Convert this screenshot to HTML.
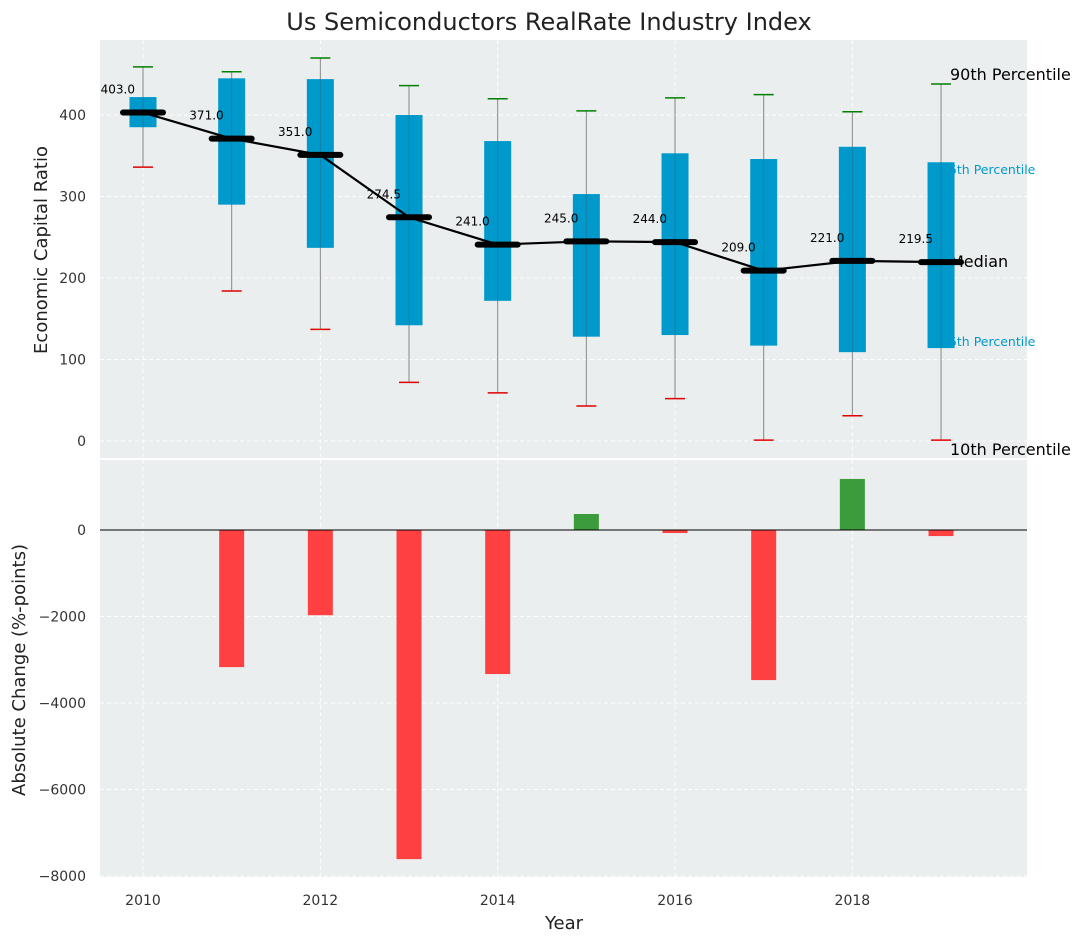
<!DOCTYPE html>
<html><head><meta charset="utf-8"><style>
body{margin:0;background:#fff;}
svg{display:block;font-family:"DejaVu Sans","Liberation Sans",sans-serif;}
</style></head><body>
<svg id="c" width="1085" height="942" viewBox="0 0 1085 942"></svg>
<script>
const years=[2010,2011,2012,2013,2014,2015,2016,2017,2018,2019];
const medians=[403,371,351,274.5,241,245,244,209,221,219.5];
const q1=[385,290,237,142,172,128,130,117,109,114];
const q3=[422,445,444,400,368,303,353,346,361,342];
const p10=[336,184,137,72,59,43,52,1,31,1];
const p90=[459,453,470,436,420,405,421,425,404,438];
const changes=[null,-3170,-1970,-7610,-3330,370,-70,-3470,1180,-140];
const topTicks=[0,100,200,300,400];
const botTicks=[0,-2000,-4000,-6000,-8000];
const xTicks=[2010,2012,2014,2016,2018];

const NS="http://www.w3.org/2000/svg";
const svg=document.getElementById('c');
function el(t,a,p){const e=document.createElementNS(NS,t);for(const k in a)e.setAttribute(k,a[k]);(p||svg).appendChild(e);return e;}
const X=v=>143+(v-2010)*88.67;
const YT=v=>441-v*0.815;
const YB=v=>530-v*0.04325;
const L=100,R=1027;
let e;
e=el('rect',{x:L,y:40,width:R-L,height:418,fill:'#eaeeee'});

e=el('rect',{x:L,y:460,width:R-L,height:417,fill:'#eaeeee'});

topTicks.forEach(t=>{el('line',{x1:L,x2:R,y1:YT(t),y2:YT(t),stroke:'#fff','stroke-dasharray':'4 3','stroke-width':1});
 e=el('text',{x:L-14,y:YT(t)+5,'text-anchor':'end','font-size':14,fill:'#333'});e.textContent=t;
 });
botTicks.forEach(t=>{el('line',{x1:L,x2:R,y1:YB(t),y2:YB(t),stroke:'#fff','stroke-dasharray':'4 3','stroke-width':1});
 e=el('text',{x:L-14,y:YB(t)+5,'text-anchor':'end','font-size':14,fill:'#333'});e.textContent=String(t).replace('-','\u2212');
 });
xTicks.forEach(t=>{el('line',{x1:X(t),x2:X(t),y1:40,y2:458,stroke:'#fff','stroke-dasharray':'4 3'});
 el('line',{x1:X(t),x2:X(t),y1:460,y2:877,stroke:'#fff','stroke-dasharray':'4 3'});
 e=el('text',{x:X(t),y:905,'text-anchor':'middle','font-size':14,fill:'#333'});e.textContent=t;
 });
const rl=[['90th Percentile',80,'#000',16,950],['75th Percentile',174,'#0099cc',12.5,941],['Median',267,'#000',16,950],['25th Percentile',346,'#0099cc',12.5,941],['10th Percentile',455,'#000',16,950]];
rl.forEach(r=>{e=el('text',{x:r[4],y:r[1],'font-size':r[3],fill:r[2]});e.textContent=r[0];
 });
years.forEach((y,i)=>{const x=X(y);
 e=el('line',{x1:x,x2:x,y1:YT(p10[i]),y2:YT(p90[i]),stroke:'#888','stroke-width':1});
 
 e=el('rect',{x:x-13.5,y:YT(q3[i]),width:27,height:YT(q1[i])-YT(q3[i]),fill:'#0099cc'});
 
 el('line',{x1:x,x2:x,y1:YT(q1[i]),y2:YT(q3[i]),stroke:'#2a6f88','stroke-width':1,opacity:0.6});
 e=el('line',{x1:x-10,x2:x+10,y1:YT(p90[i]),y2:YT(p90[i]),stroke:'#008000','stroke-width':1.5});
 
 e=el('line',{x1:x-10,x2:x+10,y1:YT(p10[i]),y2:YT(p10[i]),stroke:'#e00000','stroke-width':1.5});
 
});
e=el('polyline',{points:years.map((y,i)=>X(y)+','+YT(medians[i])).join(' '),fill:'none',stroke:'#000','stroke-width':2.2});

years.forEach((y,i)=>{const x=X(y);
 e=el('line',{x1:x-20,x2:x+20,y1:YT(medians[i]),y2:YT(medians[i]),stroke:'#000','stroke-width':6,'stroke-linecap':'round'});
 
 e=el('text',{x:x-8,y:YT(medians[i])-19,'text-anchor':'end','font-size':12,fill:'#000'});e.textContent=medians[i].toFixed(1);
 
});
years.forEach((y,i)=>{if(changes[i]==null)return;const v=changes[i];
 e=el('rect',{x:X(y)-12.5,y:Math.min(YB(v),YB(0)),width:25,height:Math.abs(YB(v)-YB(0)),fill:v>=0?'#3a9c3a':'#ff4040'});
 });
e=el('line',{x1:L,x2:R,y1:YB(0),y2:YB(0),stroke:'#000','stroke-width':1});

e=el('text',{x:549,y:30,'text-anchor':'middle','font-size':24,fill:'#222'});e.textContent='Us Semiconductors RealRate Industry Index';

e=el('text',{x:0,y:0,'text-anchor':'middle','font-size':18,fill:'#222',transform:'translate(47,250) rotate(-90)'});e.textContent='Economic Capital Ratio';

e=el('text',{x:0,y:0,'text-anchor':'middle','font-size':18,fill:'#222',transform:'translate(25,670) rotate(-90)'});e.textContent='Absolute Change (%-points)';

e=el('text',{x:564,y:929,'text-anchor':'middle','font-size':18,fill:'#222'});e.textContent='Year';

</script>
</body></html>
